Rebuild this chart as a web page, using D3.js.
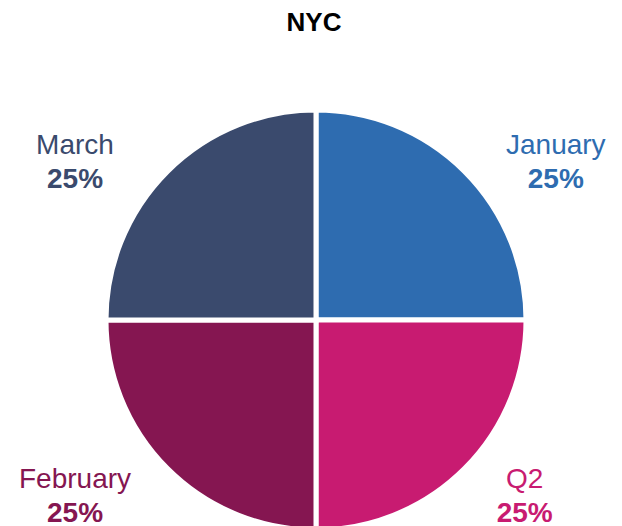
<!DOCTYPE html>
<html>
<head>
<meta charset="utf-8">
<script src="https://cdn.jsdelivr.net/npm/d3@7"></script>
<style>
  body { margin: 0; background: #fff; }
  svg { display: block; font-family: "Liberation Sans", Arial, sans-serif; }
</style>
</head>
<body>
<div class="container"></div>
<script>
const WIDTH = 622;
const HEIGHT = 526;

// data, clockwise from 12 o'clock
var categories = ['January', 'Q2', 'February', 'March'];
var values = [25, 25, 25, 25];
var colors = ['#2e6cb0', '#c81b71', '#851651', '#3a4a6d'];
var title = 'NYC';

var translate = function(x, y) {
    return `translate(${x},${y})`;
};

var fillLayout = function() {
    var svg = d3.select('.container').append('svg')
        .attr('width', WIDTH)
        .attr('height', HEIGHT);

    svg.append('text')
        .attr('x', 314)
        .attr('y', 31)
        .attr('text-anchor', 'middle')
        .attr('font-size', 26)
        .attr('font-weight', 'bold')
        .attr('fill', '#000')
        .text(title);

    const cx = 316, cy = 320, radius = 210;

    var total = d3.sum(values);
    var pie = d3.pie().sort(null).value((d, i) => values[i]);
    var arcs = pie(categories);

    var arc = d3.arc().innerRadius(0).outerRadius(radius);
    var labelArc = d3.arc().innerRadius(236).outerRadius(236);

    var color = d3.scaleOrdinal().domain(categories).range(colors);

    var g = svg.append('g').attr('transform', translate(cx, cy));

    g.selectAll('path.slice').data(arcs).enter()
        .append('path')
        .classed('slice', true)
        .attr('d', arc)
        .attr('fill', d => color(d.data))
        .attr('stroke', '#fff')
        .attr('stroke-width', 5)
        .attr('stroke-linejoin', 'miter');

    var labels = g.selectAll('g.label').data(arcs).enter()
        .append('g')
        .classed('label', true);

    labels.append('text')
        .classed('name', true)
        .attr('text-anchor', 'middle')
        .attr('font-size', 28)
        .attr('fill', d => color(d.data))
        .text(d => d.data);

    labels.append('text')
        .classed('pct', true)
        .attr('text-anchor', 'middle')
        .attr('font-size', 28)
        .attr('font-weight', 'bold')
        .attr('fill', d => color(d.data))
        .text(d => d3.format('.0%')(d.value / total));

    // place each label block just outside its slice
    labels.each(function(d) {
        var sel = d3.select(this);
        var c = labelArc.centroid(d);
        var w = sel.select('.name').node().getComputedTextLength();
        var bx = c[0] > 0 ? 190 + w / 2 : -241;
        var by = (c[1] < 0 ? -167 : 167) + 8;
        sel.attr('transform', translate(bx, by));
        sel.select('.name').attr('y', -7);
        sel.select('.pct').attr('y', 27);
    });
};
window.onload = fillLayout;
</script>
</body>
</html>
